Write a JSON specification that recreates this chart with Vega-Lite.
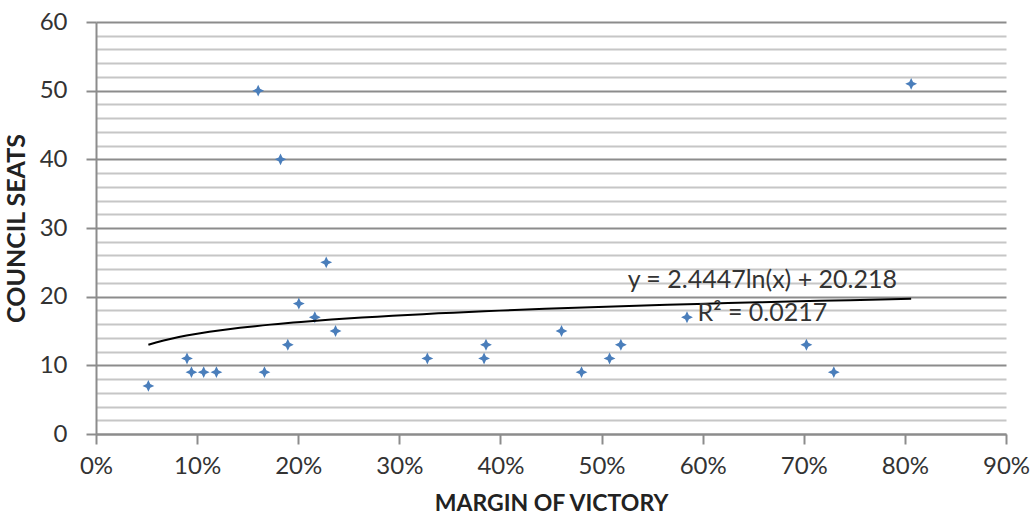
{
  "$schema": "https://vega.github.io/schema/vega-lite/v6.json",
  "width": 910,
  "height": 412,
  "autosize": {"type": "none"},
  "padding": {"left": 96, "top": 22, "right": 30, "bottom": 82},
  "background": "white",
  "config": {
    "view": {"stroke": null},
    "font": "Lato, sans-serif"
  },
  "datasets": {
    "pts": [
      {"margin": 0.0518, "seats": 7},
      {"margin": 0.0900, "seats": 11},
      {"margin": 0.0944, "seats": 9},
      {"margin": 0.1065, "seats": 9},
      {"margin": 0.1191, "seats": 9},
      {"margin": 0.1604, "seats": 50},
      {"margin": 0.1666, "seats": 9},
      {"margin": 0.1825, "seats": 40},
      {"margin": 0.1897, "seats": 13},
      {"margin": 0.2006, "seats": 19},
      {"margin": 0.2164, "seats": 17},
      {"margin": 0.2277, "seats": 25},
      {"margin": 0.2369, "seats": 15},
      {"margin": 0.3277, "seats": 11},
      {"margin": 0.3838, "seats": 11},
      {"margin": 0.3857, "seats": 13},
      {"margin": 0.4604, "seats": 15},
      {"margin": 0.4802, "seats": 9},
      {"margin": 0.5079, "seats": 11},
      {"margin": 0.5191, "seats": 13},
      {"margin": 0.5845, "seats": 17},
      {"margin": 0.7026, "seats": 13},
      {"margin": 0.7297, "seats": 9},
      {"margin": 0.8062, "seats": 51}
    ],
    "labels": [
      {"margin": 0.659, "seats": 22.4, "label": "y = 2.4447ln(x) + 20.218"},
      {"margin": 0.659, "seats": 17.6, "label": "R² = 0.0217"}
    ]
  },
  "layer": [
    {
      "data": {"name": "pts"},
      "mark": {
        "type": "point",
        "shape": "M0,-1L0.32,-0.32L1,0L0.32,0.32L0,1L-0.32,0.32L-1,0L-0.32,-0.32Z",
        "filled": true,
        "size": 140,
        "color": "#4a7ebb",
        "opacity": 1
      },
      "encoding": {
        "x": {
          "field": "margin",
          "type": "quantitative",
          "scale": {"domain": [0, 0.9], "nice": false, "zero": false},
          "axis": {
            "values": [0, 0.1, 0.2, 0.3, 0.4, 0.5, 0.6, 0.7, 0.8, 0.9],
            "tickCount": 100,
            "format": ".0%",
            "grid": false,
            "tickSize": 10,
            "tickWidth": 2,
            "tickColor": "#8c8c8c",
            "domainColor": "#8c8c8c",
            "domainWidth": 2,
            "labelFontSize": 24,
            "labelColor": "#333333",
            "labelPadding": 10,
            "labelFlush": false,
            "labelOverlap": false,
            "title": "MARGIN OF VICTORY",
            "titleFontSize": 23,
            "titleFontWeight": "bold",
            "titleColor": "#222222",
            "titlePadding": 14
          }
        },
        "y": {
          "field": "seats",
          "type": "quantitative",
          "scale": {"domain": [0, 60], "nice": false},
          "axis": {
            "values": [0, 2, 4, 6, 8, 10, 12, 14, 16, 18, 20, 22, 24, 26, 28, 30, 32, 34, 36, 38, 40, 42, 44, 46, 48, 50, 52, 54, 56, 58, 60],
            "tickCount": 100,
            "format": "d",
            "labelExpr": "datum.value % 10 === 0 ? datum.label : ''",
            "labelOverlap": false,
            "grid": true,
            "gridColor": {"condition": {"test": "datum.value % 10 === 0", "value": "#8c8c8c"}, "value": "#c6c6c6"},
            "gridWidth": 2,
            "tickOpacity": {"condition": {"test": "datum.value % 10 === 0", "value": 1}, "value": 0},
            "tickSize": 10,
            "tickWidth": 2,
            "tickColor": "#8c8c8c",
            "domainColor": "#8c8c8c",
            "domainWidth": 2,
            "labelFontSize": 24,
            "labelColor": "#333333",
            "labelPadding": 19,
            "labelFlush": false,
            "title": "COUNCIL SEATS",
            "titleFontSize": 25,
            "titleFontWeight": "bold",
            "titleColor": "#222222",
            "titlePadding": 10
          }
        }
      }
    },
    {
      "data": {"name": "pts"},
      "transform": [
        {"regression": "seats", "on": "margin", "method": "log"}
      ],
      "mark": {"type": "line", "color": "#000000", "strokeWidth": 2},
      "encoding": {
        "x": {"field": "margin", "type": "quantitative"},
        "y": {"field": "seats", "type": "quantitative"}
      }
    },
    {
      "data": {"name": "labels"},
      "mark": {"type": "text", "fontSize": 25, "color": "#333333", "align": "center", "baseline": "middle"},
      "encoding": {
        "x": {"field": "margin", "type": "quantitative"},
        "y": {"field": "seats", "type": "quantitative"},
        "text": {"field": "label"}
      }
    }
  ]
}
